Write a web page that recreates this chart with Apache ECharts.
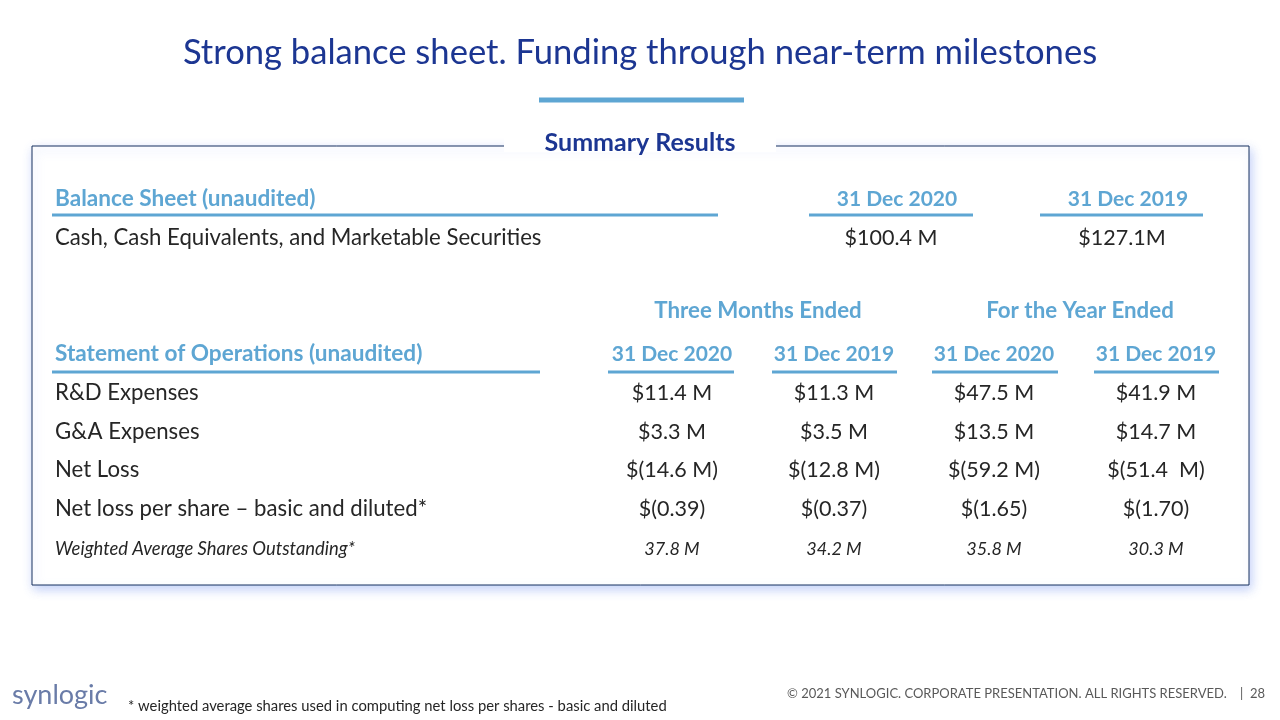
<!DOCTYPE html>
<html>
<head>
<meta charset="utf-8">
<script src="https://cdn.jsdelivr.net/npm/echarts@6/dist/echarts.min.js"></script>
<style>html,body{margin:0;padding:0;background:#fff}#c{width:1280px;height:720px}</style>
</head>
<body>
<div id="c"></div>
<script>
// ---- data ----
var title = "Strong balance sheet. Funding through near-term milestones";
var boxTitle = "Summary Results";
var balanceHeader = "Balance Sheet (unaudited)";
var balanceDates = ["31 Dec 2020", "31 Dec 2019"];
var balanceRowLabel = "Cash, Cash Equivalents, and Marketable Securities";
var balanceValues = ["$100.4 M", "$127.1M"];
var periodGroups = ["Three Months Ended", "For the Year Ended"];
var opsHeader = "Statement of Operations (unaudited)";
var opsDates = ["31 Dec 2020", "31 Dec 2019", "31 Dec 2020", "31 Dec 2019"];
var opsRowLabels = ["R&D Expenses", "G&A Expenses", "Net Loss", "Net loss per share \u2013 basic and diluted*"];
var rdValues = ["$11.4 M", "$11.3 M", "$47.5 M", "$41.9 M"];
var gaValues = ["$3.3 M", "$3.5 M", "$13.5 M", "$14.7 M"];
var netLossValues = ["$(14.6 M)", "$(12.8 M)", "$(59.2 M)", "$(51.4  M)"];
var perShareValues = ["$(0.39)", "$(0.37)", "$(1.65)", "$(1.70)"];
var sharesLabel = "Weighted Average Shares Outstanding*";
var sharesValues = ["37.8 M", "34.2 M", "35.8 M", "30.3 M"];
var footnote = "* weighted average shares used in computing net loss per shares - basic and diluted";
var footerText = "\u00A9 2021 SYNLOGIC. CORPORATE PRESENTATION. ALL RIGHTS RESERVED.    |  28";
var logoText = "synlogic";

// ---- layout ----
var FONT = "Lato";
var NAVY = "#1c3692", LIGHT = "#5ea6d3", BODY = "#262626";
var opsCols = [672, 834, 994, 1156];
var opsLines = [[608, 734], [772, 897], [932, 1058], [1094, 1219]];
var balCols = [891, 1122];
var balLines = [[809, 973], [1040, 1203]];
var groupCols = [758, 1080];
var rowYs = [393, 432, 470, 509];

var g = [];
function txt(x, y, s, o) {
  o = o || {};
  g.push({type: 'text', x: x, y: y, z: 10, style: {
    text: s, fill: o.fill || BODY, font: (o.style || 'normal') + ' ' + (o.weight || 'normal') + ' ' + (o.size || 20) + 'px ' + (o.family || FONT),
    textAlign: o.align || 'left', textVerticalAlign: 'middle'
  }});
}
function line(x1, x2, y, w, c) {
  g.push({type: 'rect', z: 5, shape: {x: x1, y: y - w / 2, width: x2 - x1, height: w}, style: {fill: c}});
}

// title
txt(640, 53, title, {fill: NAVY, size: 34.6, align: 'center'});
line(539, 744, 100, 5, LIGHT);

// box with shadow
g.push({type: 'rect', z: 1, shape: {x: 32, y: 146, width: 1217, height: 439},
  style: {fill: '#fff', stroke: '#17305e', lineWidth: 1, shadowBlur: 10, shadowOffsetY: 4, shadowOffsetX: 2, shadowColor: 'rgba(120,150,240,0.45)'}});
g.push({type: 'rect', z: 3, shape: {x: 504, y: 138, width: 272, height: 14}, style: {fill: '#fff'}});
txt(640, 143, boxTitle, {fill: NAVY, size: 25, weight: 'bold', align: 'center'});

// balance sheet
txt(55, 199, balanceHeader, {fill: LIGHT, weight: 'bold', size: 22.6});
line(52, 718, 215, 3, LIGHT);
balanceDates.forEach(function (d, i) {
  txt(balCols[i] + 6, 199, d, {fill: LIGHT, weight: 'bold', size: 21, align: 'center'});
  line(balLines[i][0], balLines[i][1], 215, 3, LIGHT);
});
txt(55, 238, balanceRowLabel, {size: 22.2});
balanceValues.forEach(function (v, i) { txt(balCols[i], 238, v, {size: 21.5, align: 'center'}); });

// operations
periodGroups.forEach(function (p, i) { txt(groupCols[i], 311, p, {fill: LIGHT, weight: 'bold', size: 22.3, align: 'center'}); });
txt(55, 354, opsHeader, {fill: LIGHT, weight: 'bold', size: 22.6});
line(52, 540, 372, 3, LIGHT);
opsDates.forEach(function (d, i) {
  txt(opsCols[i], 354, d, {fill: LIGHT, weight: 'bold', size: 21, align: 'center'});
  line(opsLines[i][0], opsLines[i][1], 372, 3, LIGHT);
});
var opsValues = [rdValues, gaValues, netLossValues, perShareValues];
opsRowLabels.forEach(function (l, r) {
  txt(55, rowYs[r], l, {size: 22.2});
  opsValues[r].forEach(function (v, i) { txt(opsCols[i], rowYs[r], v, {size: 21.5, align: 'center'}); });
});
txt(55, 549, sharesLabel, {size: 18.4, style: 'italic'});
sharesValues.forEach(function (v, i) { txt(opsCols[i], 549, v, {size: 18, style: 'italic', align: 'center'}); });

// footer
txt(12, 695, logoText, {fill: '#6a7ca8', size: 27, family: 'Lato'});
txt(128, 706, footnote, {size: 14.8, fill: BODY});
txt(1265, 694, footerText, {size: 13, fill: '#595959', align: 'right'});

var chart = echarts.init(document.getElementById('c'), null, {renderer: 'canvas'});
chart.setOption({animation: false, backgroundColor: '#fff', graphic: {elements: g}});
</script>
</body>
</html>
